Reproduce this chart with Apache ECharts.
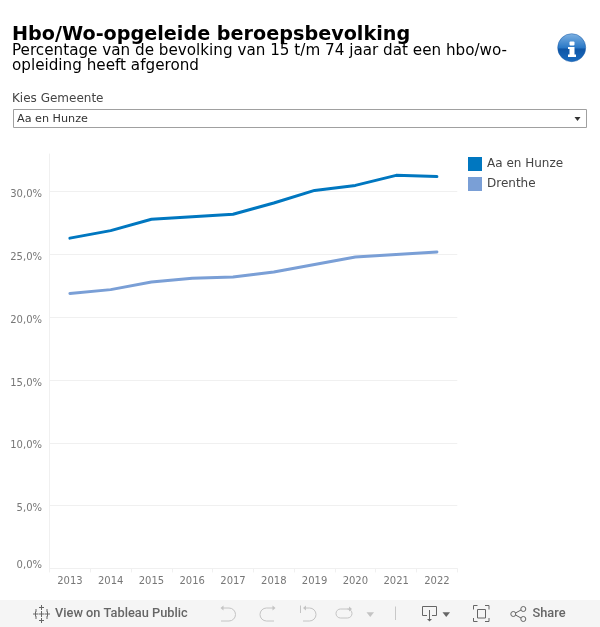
<!DOCTYPE html>
<html><head><meta charset="utf-8">
<style>html,body{margin:0;padding:0;background:#fff}#c{width:600px;height:627px}</style>
<script src="https://cdn.jsdelivr.net/npm/echarts@6/dist/echarts.min.js"></script>
</head><body><div id="c"></div>
<script>
const years = ['2013','2014','2015','2016','2017','2018','2019','2020','2021','2022'];
const aaEnHunze = [26.3,26.9,27.8,28.0,28.2,29.1,30.1,30.5,31.3,31.2];
const drenthe = [21.9,22.2,22.8,23.1,23.2,23.6,24.2,24.8,25.0,25.2];
const yTicks = [0,5,10,15,20,25,30];
const titleText = 'Hbo/Wo-opgeleide beroepsbevolking';
const subtitleLines = ['Percentage van de bevolking van 15 t/m 74 jaar dat een hbo/wo-','opleiding heeft afgerond'];
const filterLabel = 'Kies Gemeente';
const filterValue = 'Aa en Hunze';
const dejavu = '"DejaVu Sans", sans-serif';
const toolFont = 'Roboto, sans-serif';
const grey = '#c4c4c4';
const dark = '#666';
function txt(x,y,text,size,color,font,weight){
  return {type:'text',x:x,y:y,silent:true,style:{text:text,fontSize:size,fill:color,fontFamily:font,fontWeight:weight||'normal',verticalAlign:'middle',align:'left'}};
}
function pl(points,stroke,w){
  return {type:'polyline',silent:true,shape:{points:points},style:{fill:'none',stroke:stroke,lineWidth:w||1}};
}
function arc(cx,cy,r,a,b,stroke){
  return {type:'arc',silent:true,shape:{cx:cx,cy:cy,r:r,startAngle:a,endAngle:b,clockwise:true},style:{fill:'none',stroke:stroke,lineWidth:1}};
}
function tri(x,y,w,h,fill){
  return {type:'polygon',silent:true,shape:{points:[[x,y],[x+w,y],[x+w/2,y+h]]},style:{fill:fill}};
}
function ring(cx,cy,r,c){
  return {type:'circle',silent:true,shape:{cx:cx,cy:cy,r:r},style:{fill:'none',stroke:c,lineWidth:1}};
}
function tri2(x,y){return {type:'polygon',silent:true,shape:{points:[[x,y],[x+3,y-2.5],[x+3,y+2.5]]},style:{fill:grey}};}
function tri3(x,y){return {type:'polygon',silent:true,shape:{points:[[x,y],[x-3,y-2.5],[x-3,y+2.5]]},style:{fill:grey}};}
const P=Math.PI;
const graphics = [
  {type:'rect',silent:true,z:-1,shape:{x:0,y:600,width:600,height:27},style:{fill:'#f5f5f5'}},
  txt(12,35,titleText,19.2,'#000',dejavu,'bold'),
  txt(12,51.5,subtitleLines[0],15.2,'#000',dejavu),
  txt(12,66.5,subtitleLines[1],15.2,'#000',dejavu),
  txt(12,99,filterLabel,12,'#444',dejavu),
  {type:'rect',silent:true,shape:{x:13.5,y:109.5,width:573,height:18},style:{fill:'#fff',stroke:'#a0a0a0',lineWidth:1}},
  txt(17,119,filterValue,11.2,'#333',dejavu),
  tri(574.5,117,6,4,'#333'),
  {type:'circle',silent:true,shape:{cx:571.7,cy:47.7,r:14},style:{fill:{type:'linear',x:0,y:0,x2:0,y2:1,colorStops:[{offset:0,color:'#7fb2e2'},{offset:.5,color:'#2a78c6'},{offset:.55,color:'#0f56a6'},{offset:1,color:'#1a6cc0'}]},stroke:'#1a5aa6',lineWidth:.5}},
  {type:'rect',silent:true,shape:{x:569.5,y:41.5,width:5,height:4,r:1},style:{fill:'#fff'}},
  {type:'polygon',silent:true,shape:{points:[[568,47],[574.5,47],[574.5,54.5],[576,54.5],[576,57],[568,57],[568,54.5],[569.5,54.5],[569.5,49],[568,49]]},style:{fill:'#fff'}},
  // toolbar: Tableau mark
  pl([[41.5,605],[41.5,610]],dark),pl([[39,607.5],[44,607.5]],dark),
  pl([[41.5,618],[41.5,623]],dark),pl([[39,620.5],[44,620.5]],dark),
  pl([[33,614],[38,614]],dark),pl([[45,614],[50,614]],dark),
  pl([[35.5,611.5],[35.5,616.5]],dark),pl([[47.5,611.5],[47.5,616.5]],dark),
  pl([[41.5,611],[41.5,617]],dark),pl([[38.5,614],[44.5,614]],dark),
  pl([[36,609],[36,612]],dark),pl([[47,609],[47,612]],dark),
  pl([[36,616],[36,619]],dark),pl([[47,616],[47,619]],dark),
  txt(55,613.5,'View on Tableau Public',12.8,dark,toolFont,'500'),
  // undo
  arc(229,614.5,6.5,-P/2,P/2,grey),pl([[222,608],[229,608]],grey),pl([[221,621],[229,621]],grey),tri2(220.5,608),
  // redo
  arc(266.5,614.5,6.5,P/2,3*P/2,grey),pl([[266.5,608],[273,608]],grey),pl([[266.5,621],[274,621]],grey),tri3(275.5,608),
  // revert
  pl([[300.5,605.5],[300.5,613]],grey),tri2(303,608),pl([[304,608],[309.5,608]],grey),arc(309.5,614.5,6.5,-P/2,P/2,grey),pl([[303,621],[309.5,621]],grey),
  // refresh
  arc(340.5,613.5,4.5,P/2,3*P/2,grey),pl([[340.5,609],[349,609]],grey),arc(347.5,613.5,4.5,-P/2,P/2,grey),pl([[340.5,618],[347.5,618]],grey),tri3(352,609),
  tri(366.5,612.3,7.5,4.7,grey),
  pl([[395.5,606.5],[395.5,620]],'#c8c8c8'),
  // download
  pl([[427,615.5],[422.5,615.5],[422.5,606.5],[436.5,606.5],[436.5,615.5],[432,615.5]],dark),pl([[429.5,610],[429.5,620]],dark),tri(427,619,5,2.5,dark),
  tri(442.5,612.3,7.5,4.7,dark),
  // fullscreen
  pl([[473.5,609.5],[473.5,605.5],[477.5,605.5]],dark),pl([[485,605.5],[489,605.5],[489,609.5]],dark),
  pl([[473.5,618],[473.5,621.5],[477.5,621.5]],dark),pl([[485,621.5],[489,621.5],[489,618]],dark),
  {type:'rect',silent:true,shape:{x:477.5,y:609.5,width:8,height:8.5},style:{fill:'none',stroke:dark,lineWidth:1}},
  // share
  ring(523.3,609,2.5,dark),ring(513.3,614,2.5,dark),ring(523.3,619,2.5,dark),
  pl([[515.5,613],[521,610]],dark),pl([[515.5,615],[521,618]],dark),
  txt(532.5,613.5,'Share',12.8,dark,toolFont,'500')
];
const chart = echarts.init(document.getElementById('c'),null,{renderer:'canvas'});
const gridLine = '#f0f0f0';
const axisText = '#777';
chart.setOption({
  animation:false,
  backgroundColor:'#fff',
  textStyle:{fontFamily:dejavu},
  graphic:{elements:graphics},
  legend:{
    left:468,top:157,orient:'vertical',icon:'rect',itemWidth:14,itemHeight:14,itemGap:6,
    selectedMode:false,
    textStyle:{fontSize:12,color:'#444',fontFamily:dejavu,padding:[4,0,0,0]},
    data:['Aa en Hunze','Drenthe'],padding:0
  },
  grid:{left:49.5,right:142.7,top:154,bottom:58.6,containLabel:false},
  xAxis:{type:'category',data:years,boundaryGap:true,
    axisLine:{show:true,lineStyle:{color:gridLine,width:1}},
    axisTick:{show:true,length:4,lineStyle:{color:gridLine}},
    axisLabel:{fontSize:10,color:axisText,margin:8,fontFamily:dejavu,interval:0},
    splitLine:{show:false}},
  yAxis:{type:'value',min:0,max:33,interval:5,
    axisLine:{show:true,lineStyle:{color:gridLine,width:1}},
    axisTick:{show:false,customValues:yTicks},
    axisLabel:{color:axisText,margin:7.5,customValues:yTicks,
      formatter:v=>(v===0?'{z|':'{a|')+v.toFixed(1).replace('.',',')+'%}',
      rich:{
        a:{fontSize:10,color:axisText,fontFamily:dejavu,padding:[6,0,0,0]},
        z:{fontSize:10,color:axisText,fontFamily:dejavu,padding:[0,0,6,0]}
      }},
    splitLine:{show:true,lineStyle:{color:gridLine,width:1}}},
  series:[
    {name:'Aa en Hunze',type:'line',data:aaEnHunze,showSymbol:false,symbol:'none',lineStyle:{width:3,color:'#0077c0',cap:'round',join:'round'},itemStyle:{color:'#0077c0'}},
    {name:'Drenthe',type:'line',data:drenthe,showSymbol:false,symbol:'none',lineStyle:{width:3,color:'#7a9fd6',cap:'round',join:'round'},itemStyle:{color:'#7a9fd6'}}
  ]
});
</script></body></html>
